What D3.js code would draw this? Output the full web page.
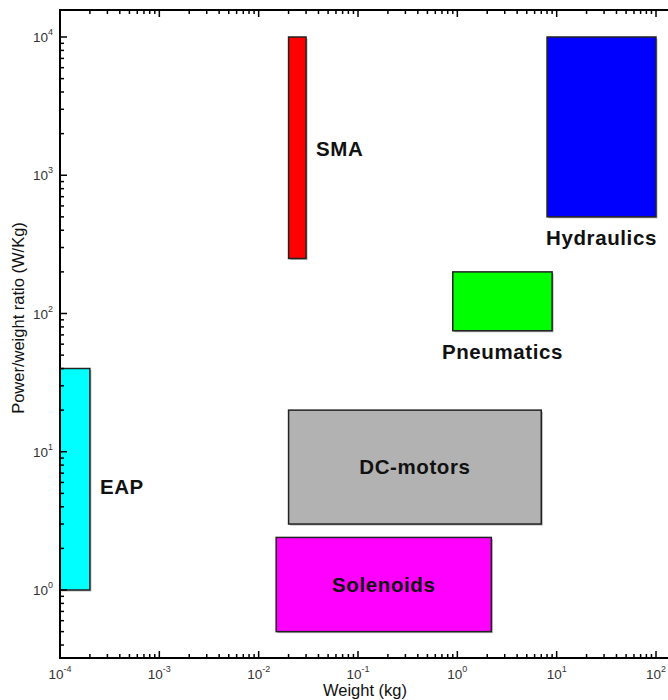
<!DOCTYPE html>
<html><head><meta charset="utf-8">
<script src="https://cdn.jsdelivr.net/npm/d3@7"></script>
<style>body{margin:0;background:#fff}svg{display:block}</style>
</head><body><svg id="c" width="668" height="700"></svg>
<script>
const categories = ["EAP","SMA","Solenoids","DC-motors","Pneumatics","Hydraulics"];
const weightMin = [1e-4, 0.02, 0.015, 0.02, 0.9, 8];
const weightMax = [2e-4, 0.03, 2.2, 7, 9, 100];
const ratioMin  = [1, 250, 0.5, 3, 75, 500];
const ratioMax  = [40, 10000, 2.4, 20, 200, 10000];
const xTickExps = [-4,-3,-2,-1,0,1,2];
const yTickExps = [0,1,2,3,4];
const xTitle = "Weight (kg)";
const yTitle = "Power/weight ratio (W/Kg)";

const fills = {"EAP":"#00ffff","SMA":"#ff0000","Solenoids":"#ff00ff","DC-motors":"#b2b2b2","Pneumatics":"#00ff00","Hydraulics":"#0000ff"};
const labelPos = {"EAP":"right","SMA":"right","Solenoids":"center","DC-motors":"center","Pneumatics":"below","Hydraulics":"below"};

const svg = d3.select("#c");
const x = d3.scaleLog().domain([1e-4, 1e2]).range([60, 656]);
const y = d3.scaleLog().domain([1, 1e4]).range([590, 37]);
const L = 60, R = 668, T = 10, B = 658;
const font = "Liberation Sans, Arial, sans-serif";

const data = categories.map((c,i)=>({c, x0:weightMin[i], x1:weightMax[i], y0:ratioMin[i], y1:ratioMax[i]}));
const g = svg.append("g");
g.selectAll("rect.sh").data(data).join("rect")
  .attr("x", d=>x(d.x0)+1.5).attr("y", d=>y(d.y1)+1.5)
  .attr("width", d=>x(d.x1)-x(d.x0)).attr("height", d=>y(d.y0)-y(d.y1))
  .attr("fill","#888").attr("opacity",0.6);
g.selectAll("rect.b").data(data).join("rect")
  .attr("x", d=>x(d.x0)).attr("y", d=>y(d.y1))
  .attr("width", d=>x(d.x1)-x(d.x0)).attr("height", d=>y(d.y0)-y(d.y1))
  .attr("fill", d=>fills[d.c]).attr("stroke","#222").attr("stroke-width",1.5);

g.selectAll("text.lab").data(data).join("text")
  .attr("font-family",font).attr("font-weight","bold")
  .attr("font-size",20.5).attr("letter-spacing",0.6).attr("fill","#111")
  .each(function(d){
    const t = d3.select(this);
    const cx = Math.sqrt(d.x0*d.x1), cy = Math.sqrt(d.y0*d.y1);
    const p = labelPos[d.c];
    if(p==="center"){ t.attr("x",x(cx)).attr("y",y(cy)+7).attr("text-anchor","middle"); }
    else if(p==="right"){ t.attr("x",x(d.x1)+10).attr("y",y(cy)+(d.c==="EAP"?15:8)).attr("text-anchor","start"); }
    else { t.attr("x",x(cx)).attr("y",y(d.y0)+28).attr("text-anchor","middle"); }
    t.text(d.c);
  });

const ax = svg.append("g").attr("stroke","#000").attr("fill","none");
ax.append("line").attr("x1",L).attr("x2",L).attr("y1",T-1).attr("y2",B+1).attr("stroke-width",2);
ax.append("line").attr("x1",L).attr("x2",R).attr("y1",B).attr("y2",B).attr("stroke-width",2);
ax.append("line").attr("x1",L).attr("x2",R).attr("y1",T).attr("y2",T).attr("stroke-width",2);

function ticksFor(scale, lo, hi, exps){
  const out=[];
  for(let e=exps[0]-1;e<=exps[exps.length-1]+1;e++){
    for(let k=1;k<10;k++){
      const v=k*Math.pow(10,e); const p=scale(v);
      if(p>=Math.min(lo,hi)-0.1 && p<=Math.max(lo,hi)+0.1) out.push({v,p,major:k===1});
    }
  }
  return out;
}
x.ticksList = ticksFor(x, L, R-1, xTickExps);
x.ticksList.forEach(t=>{
  const len = t.major?7:4;
  ax.append("line").attr("x1",t.p).attr("x2",t.p).attr("y1",B).attr("y2",B-len).attr("stroke-width",1.5);
  ax.append("line").attr("x1",t.p).attr("x2",t.p).attr("y1",T).attr("y2",T+len).attr("stroke-width",1.5);
});
ticksFor(y, T, B, yTickExps).forEach(t=>{
  const len = t.major?7:4;
  ax.append("line").attr("x1",L).attr("x2",L+len).attr("y1",t.p).attr("y2",t.p).attr("stroke-width",1.5);
});

xTickExps.forEach(e=>{
  const t = svg.append("text").attr("x",x(Math.pow(10,e))).attr("y",679)
    .attr("text-anchor","middle").attr("font-family",font).attr("font-size",13.5).attr("fill","#333");
  t.append("tspan").text("10");
  t.append("tspan").attr("dy",-7).attr("font-size",9).text(String(e));
});
yTickExps.forEach(e=>{
  const t = svg.append("text").attr("x",53).attr("y",y(Math.pow(10,e))+5)
    .attr("text-anchor","end").attr("font-family",font).attr("font-size",13.5).attr("fill","#333");
  t.append("tspan").text("10");
  t.append("tspan").attr("dy",-7).attr("font-size",9).text(String(e));
});

svg.append("text").attr("x",365).attr("y",696).attr("text-anchor","middle")
  .attr("font-family",font).attr("font-size",16.5).attr("fill","#111").text(xTitle);
svg.append("text").attr("transform","translate(24,318) rotate(-90)").attr("text-anchor","middle")
  .attr("font-family",font).attr("font-size",16.5).attr("fill","#111").text(yTitle);
</script></body></html>
